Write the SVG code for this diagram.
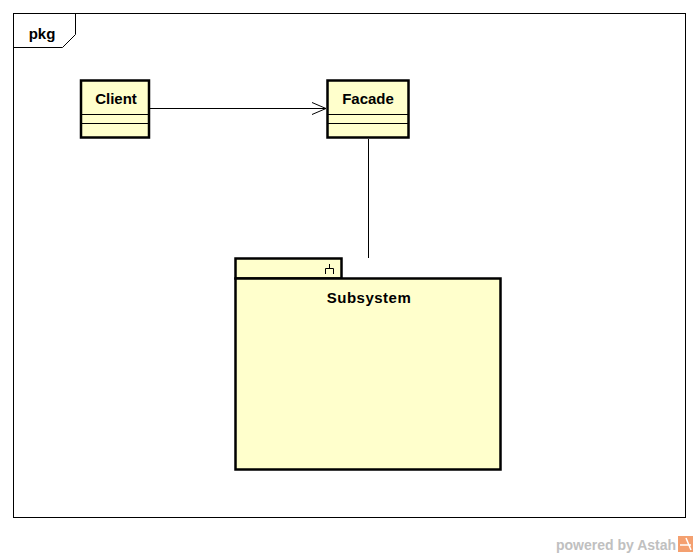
<svg xmlns="http://www.w3.org/2000/svg" width="698" height="557" viewBox="0 0 698 557">
<style>
.cls{fill:#ffffcc;stroke:#000;stroke-width:2.5}
.div{stroke:#000;stroke-width:1;fill:none}
.t{font-family:"Liberation Sans",Arial,sans-serif;font-size:15px;font-weight:bold;fill:#000;text-anchor:middle}
.ln{stroke:#000;stroke-width:1;fill:none}
</style>
<defs>
<marker id="open" markerWidth="16" markerHeight="14" refX="15" refY="7" orient="auto" markerUnits="userSpaceOnUse">
<path d="M1,1 L15,7 L1,13" fill="none" stroke="#000" stroke-width="1"/>
</marker>
</defs>
<rect width="698" height="557" fill="#fff"/>
<g id="frame">
<rect x="13.5" y="13.5" width="672" height="504" fill="none" stroke="#000" stroke-width="1"/>
<path d="M13.5,47.5 H62.5 L75.5,34.5 V13.5" fill="none" stroke="#000" stroke-width="1"/>
<text x="42" y="39" class="t">pkg</text>
</g>
<g id="connectors">
<line x1="150" y1="108.5" x2="326" y2="108.5" class="ln" marker-end="url(#open)"/>
<line x1="368.5" y1="139" x2="368.5" y2="258" class="ln"/>
</g>
<g id="client">
<rect x="81" y="80.5" width="68" height="57" class="cls"/>
<line x1="81" y1="114.5" x2="149" y2="114.5" class="div"/>
<line x1="81" y1="123.5" x2="149" y2="123.5" class="div"/>
<text x="116" y="104" class="t">Client</text>
</g>
<g id="facade">
<rect x="327.5" y="80.5" width="81" height="57" class="cls"/>
<line x1="327.5" y1="114.5" x2="408.5" y2="114.5" class="div"/>
<line x1="327.5" y1="123.5" x2="408.5" y2="123.5" class="div"/>
<text x="368" y="104" class="t">Facade</text>
</g>
<g id="subsystem">
<rect x="235.5" y="258.5" width="106" height="20" class="cls"/>
<rect x="235.5" y="278.5" width="265" height="191" class="cls"/>
<path d="M325.5,274 V268.5 H333.5 V274 M329.5,268.5 V264" fill="none" stroke="#000" stroke-width="1"/>
<text x="369" y="302.5" class="t" style="letter-spacing:0.5px">Subsystem</text>
</g>
<g id="watermark">
<text x="616" y="550" style="font-family:'Liberation Sans',Arial,sans-serif;font-size:14px;font-weight:bold;fill:#c0c0c0" text-anchor="middle">powered by Astah</text>
<rect x="678" y="536" width="15" height="16" fill="#f4a070"/>
<path d="M680,545 H691 M686,538 L691,550" stroke="#fff" stroke-width="1.5" fill="none"/>
</g>
</svg>
